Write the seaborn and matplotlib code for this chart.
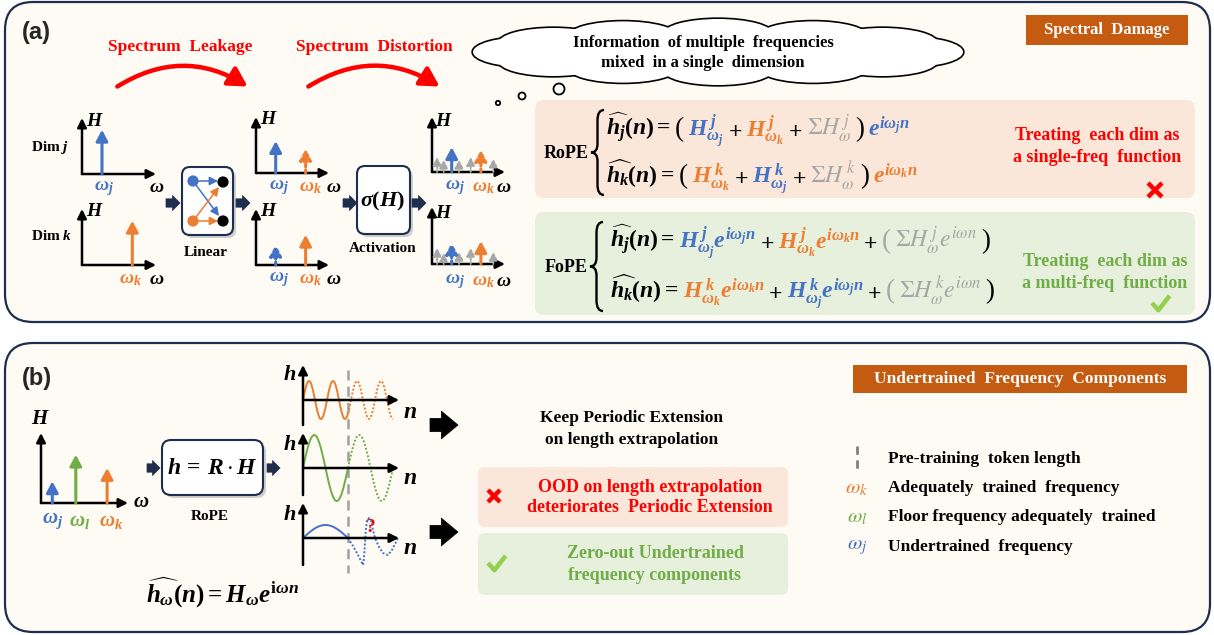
import numpy as np
import seaborn as sns
import matplotlib.pyplot as plt
from matplotlib.patches import FancyBboxPatch, Ellipse, Circle, FancyArrowPatch, PathPatch
from matplotlib.path import Path

sns.set_theme(style="white")
plt.rcParams['font.family'] = ['Liberation Serif', 'DejaVu Serif']
plt.rcParams['mathtext.fontset'] = 'custom'
plt.rcParams['mathtext.rm'] = 'Liberation Serif:bold'
plt.rcParams['mathtext.it'] = 'Liberation Serif:bold:italic'
plt.rcParams['mathtext.bf'] = 'Liberation Serif:bold'

BLUE = '#4472C4'
ORANGE = '#ED7D31'
GREEN = '#70AD47'
GRAY = '#A6A6A6'
RED = '#FF0000'
NAVY = '#1F2D4E'
CREAM = '#FDFBF3'
PEACH = '#FBE7DA'
LGREEN = '#E6F0DC'
BROWN = '#C55A11'

# ---- data: spectra (omega and H on a 0-10 scale)
w_j, w_k = 2.7, 6.8
in_j_H = 7.9                    # Dim j input (omega_j)
in_k_H = 7.9                    # Dim k input (omega_k)
lin_j_H = [5.7, 4.3]            # after Linear, dim j: omega_j, omega_k
lin_k_H = [3.6, 5.4]            # after Linear, dim k
act_gray_w = [0.7, 1.6, 3.7, 5.3, 8.4]
act_j_gray = [2.7, 2.2, 2.2, 2.7, 2.4]
act_k_gray = [2.8, 1.9, 2.1, 2.8, 2.1]
act_w = [2.7, 6.7]
act_j_H = [4.5, 4.0]
act_k_H = [3.7, 4.0]

# panel (b) spectrum
b_w = [1.3, 4.0, 7.6]
b_H = [3.1, 6.9, 5.0]

# waves: period / amplitude (pixels), pre-training length
pretrain_n = 45
n_end = 90
k_period, k_amp = 24, 19
l_period, l_amp = 45, 33
j_amp = 13
# distorted extrapolation of the undertrained frequency
j_ood_n = [45, 50, 55, 58, 60, 61, 62, 63, 64, 66, 68, 70, 72, 76, 80, 85, 89, 92, 95]
j_ood_h = [0, -8, -17, -23, -27, -20, -5, 10, 18, 20, 17, 8, 0, -9, -15, -17, -12, -6, 0]

W, H = 1214, 635
fig = plt.figure(figsize=(W / 100, H / 100), dpi=100)
ax0 = fig.add_axes([0, 0, 1, 1])
ax0.set_xlim(0, W)
ax0.set_ylim(H, 0)
ax0.axis('off')


def rbox(x0, y0, x1, y1, fc, ec='none', lw=1.0, r=8, z=1, shadow=False):
    if shadow:
        ax0.add_patch(FancyBboxPatch((x0 + 3, y0 + 3), x1 - x0, y1 - y0,
                                     boxstyle=f"round,pad=0,rounding_size={r}",
                                     fc='#B0B0B0', ec='none', alpha=0.6, zorder=z - 0.5))
    ax0.add_patch(FancyBboxPatch((x0, y0), x1 - x0, y1 - y0,
                                 boxstyle=f"round,pad=0,rounding_size={r}",
                                 fc=fc, ec=ec, lw=lw, zorder=z))


def txt(x, y, s, size, color='black', weight='bold', ha='center', va='center', **kw):
    return ax0.text(x, y, s, fontsize=size, color=color, fontweight=weight,
                    ha=ha, va=va, zorder=10, **kw)


def seq(x, y, pieces, size, gap=4):
    r = fig.canvas.get_renderer()
    for s, c, mult, fam in pieces:
        kw = {}
        if fam:
            kw['math_fontfamily'] = fam
        w8 = 'normal' if mult > 1 else 'bold'
        t = ax0.text(x, y, s, fontsize=size * mult, color=c, ha='left', va='baseline',
                     fontweight=w8, zorder=10, **kw)
        x += t.get_window_extent(renderer=r).width + gap


def brace(x, y0, y1, w=13):
    ym = (y0 + y1) / 2
    h = y1 - y0
    verts = [(x + w, y0), (x + w / 2, y0), (x + w / 2, y0 + 0.12 * h),
             (x + w / 2, ym - 0.1 * h), (x + w / 2, ym), (x, ym),
             (x + w / 2, ym), (x + w / 2, ym + 0.1 * h),
             (x + w / 2, y1 - 0.12 * h), (x + w / 2, y1), (x + w, y1)]
    codes = [Path.MOVETO, Path.CURVE3, Path.CURVE3, Path.LINETO, Path.CURVE3, Path.CURVE3,
             Path.CURVE3, Path.CURVE3, Path.LINETO, Path.CURVE3, Path.CURVE3]
    ax0.add_patch(PathPatch(Path(verts, codes), fc='none', ec='black', lw=1.7, zorder=10))


def small_arrow(x0, x1, y, color=NAVY, big=False):
    style = ("simple,head_length=0.75,head_width=1.25,tail_width=0.6" if big
             else "simple,head_length=0.45,head_width=0.9,tail_width=0.5")
    ax0.add_patch(FancyArrowPatch((x0, y), (x1, y), arrowstyle=style,
                                  mutation_scale=16 if big else 12, shrinkA=0, shrinkB=0,
                                  fc=color, ec=color, lw=0.5, zorder=10))


def cross(x, y, s=7, lw=3.2):
    ax0.plot([x - s, x + s], [y - s, y + s], color=RED, lw=lw, zorder=10, solid_capstyle='butt')
    ax0.plot([x - s, x + s], [y + s, y - s], color=RED, lw=lw, zorder=10, solid_capstyle='butt')


def check(x, y, s=8, lw=3.2):
    ax0.plot([x - s, x - s * 0.2, x + s * 1.2], [y, y + s * 0.9, y - s * 0.9],
             color='#92D050', lw=lw, zorder=10, solid_capstyle='butt')


def mini_axes(ox, oy, ex, ty, ylim=(0, 10), xlim=(0, 10)):
    a = fig.add_axes([ox / W, 1 - oy / H, (ex - ox) / W, (oy - ty) / H])
    a.set_xlim(*xlim)
    a.set_ylim(*ylim)
    a.axis('off')
    ap = dict(arrowstyle='-|>,head_length=0.6,head_width=0.3', color='black', lw=1.8,
              mutation_scale=9, shrinkA=0, shrinkB=0)
    a.annotate('', xy=(xlim[1], 0), xytext=(xlim[0], 0), xycoords='data', arrowprops=ap,
               annotation_clip=False)
    a.annotate('', xy=(xlim[0], ylim[1]), xytext=(xlim[0], ylim[0]), xycoords='data',
               arrowprops=ap, annotation_clip=False)
    return a


def spike(a, w, h, color, dotted=False, lw=2.2, ms=11):
    a.annotate('', xy=(w, h), xytext=(w, 0),
               arrowprops=dict(arrowstyle='-|>,head_length=0.6,head_width=0.32', color=color,
                               lw=lw, mutation_scale=ms, shrinkA=0, shrinkB=0,
                               linestyle=(0, (1, 1)) if dotted else '-'),
               annotation_clip=False)


# ---------------- panels
rbox(5, 2, 1210, 322, CREAM, NAVY, 1.6, r=28, z=0)
rbox(5, 343, 1210, 632, CREAM, NAVY, 1.6, r=28, z=0)
ax0.text(22, 33, '(a)', fontsize=17, fontweight='bold', family='Liberation Sans',
         ha='left', va='center', zorder=10)
ax0.text(22, 379, '(b)', fontsize=17, fontweight='bold', family='Liberation Sans',
         ha='left', va='center', zorder=10)

# ---------------- panel (a) left flow
txt(180, 47, 'Spectrum  Leakage', 12.5, RED)
txt(374, 47, 'Spectrum  Distortion', 12.5, RED)
for xa, xb in [(115, 250), (306, 442)]:
    ax0.add_patch(FancyArrowPatch((xa, 88), (xb, 88), connectionstyle='arc3,rad=-0.32',
                                  arrowstyle='-|>,head_length=0.8,head_width=0.45',
                                  mutation_scale=14, color=RED, lw=3.2, zorder=10))

txt(50, 148, r'Dim $j$', 11)
txt(52, 236, r'Dim $k$', 11)

a = mini_axes(82, 174, 156, 118)
spike(a, w_j, in_j_H, BLUE)
a = mini_axes(82, 265, 156, 209)
spike(a, w_k, in_k_H, ORANGE)

a3 = mini_axes(256, 173, 329, 117)
spike(a3, w_j, lin_j_H[0], BLUE)
spike(a3, w_k, lin_j_H[1], ORANGE, dotted=True)
a4 = mini_axes(256, 265, 329, 209)
spike(a4, w_j, lin_k_H[0], BLUE, dotted=True)
spike(a4, w_k, lin_k_H[1], ORANGE)

a5 = mini_axes(432, 172, 505, 117)
for gw, gh in zip(act_gray_w, act_j_gray):
    spike(a5, gw, gh, GRAY, dotted=True, lw=1.4, ms=8)
spike(a5, act_w[0], act_j_H[0], BLUE)
spike(a5, act_w[1], act_j_H[1], ORANGE, dotted=True)
a6 = mini_axes(432, 264, 505, 207)
for gw, gh in zip(act_gray_w, act_k_gray):
    spike(a6, gw, gh, GRAY, dotted=True, lw=1.4, ms=8)
spike(a6, act_w[0], act_k_H[0], BLUE, dotted=True)
spike(a6, act_w[1], act_k_H[1], ORANGE)

# axis labels of the small spectra
for hx, hy in [(95, 121), (95, 211), (269, 120), (269, 212), (444, 121), (444, 213)]:
    txt(hx, hy, r'$H$', 14)
for (jx, kx, wx, y) in [(None, None, 157, 188), (None, None, 157, 280),
                        (279, 310, 334, 188), (279, 310, 334, 280),
                        (455, 483, 504, 188), (455, 483, 504, 282)]:
    if jx:
        txt(jx, y, r'$\omega_j$', 14, BLUE)
        txt(kx, y, r'$\omega_k$', 14, ORANGE)
    txt(wx, y - 1, r'$\omega$', 14)
txt(104, 189, r'$\omega_j$', 14, BLUE)
txt(130, 280, r'$\omega_k$', 14, ORANGE)

# Linear box
rbox(182, 167, 233, 235, 'white', NAVY, 1.5, r=8, z=5, shadow=True)
ax0.scatter([193, 193, 223, 223], [181, 221, 182, 221], s=50,
            c=[BLUE, ORANGE, 'black', 'black'], zorder=11)
lin_ap = dict(arrowstyle='-|>,head_length=0.5,head_width=0.25', mutation_scale=10, lw=1.1)
for (p0, p1, c) in [((197, 181), (218, 181), BLUE), ((196, 185), (219, 216), BLUE),
                    ((197, 221), (218, 221), ORANGE), ((196, 217), (219, 187), ORANGE)]:
    ax0.add_patch(FancyArrowPatch(p0, p1, color=c, zorder=11, shrinkA=0, shrinkB=0, **lin_ap))
txt(206, 252, 'Linear', 11)

# Activation box
rbox(357, 166, 410, 234, 'white', NAVY, 1.5, r=8, z=5, shadow=True)
txt(383, 201, r'$\sigma(H)$', 16)
txt(383, 249, 'Activation', 11)

for xa, xb in [(166, 180), (236, 250), (343, 357), (412, 426)]:
    small_arrow(xa, xb, 203)

# ---------------- cloud
cx, cy = 718, 52
ang = np.linspace(0, 2 * np.pi, 13)[:-1]
bumps = [(cx + 190 * np.cos(t), cy + 18 * np.sin(t)) for t in ang]
for bx, by in bumps:
    ax0.add_patch(Ellipse((bx, by), 110, 30, fc='white', ec='black', lw=2.4, zorder=3))
for bx, by in bumps:
    ax0.add_patch(Ellipse((bx, by), 110, 30, fc='white', ec='none', zorder=4))
ax0.add_patch(Ellipse((cx, cy), 400, 46, fc='white', ec='none', zorder=4))
for (x, y, r) in [(498, 103, 2.2), (522, 96, 3.5), (559, 89, 5.5)]:
    ax0.add_patch(Circle((x, y), r, fc='white', ec='black', lw=1.3, zorder=4))
txt(703, 43, 'Information  of multiple  frequencies', 12)
txt(703, 63, 'mixed  in a single  dimension', 12)

# Spectral damage label
ax0.add_patch(plt.Rectangle((1026, 15), 162, 30, fc=BROWN, ec='none', zorder=5))
txt(1107, 30, 'Spectral  Damage', 12, 'white')

# ---------------- RoPE / FoPE equations
rbox(535, 100, 1195, 198, PEACH, r=9, z=1)
rbox(535, 212, 1195, 315, LGREEN, r=9, z=1)
txt(566, 153, 'RoPE', 13)
txt(566, 267, 'FoPE', 13)
brace(591, 110, 195)
brace(590, 222, 311)

S = 17
P = 1.15
rope1 = [(r'$\widehat{h_j}(n)=$', 'black', 1, None), ('(', 'black', P, None),
         (r'$H^{\,j}_{\omega_j}$', BLUE, 1, None), (r'$+$', 'black', 1, None),
         (r'$H^{\,j}_{\omega_k}$', ORANGE, 1, None), (r'$+$', 'black', 1, None),
         (r'$\Sigma H^{\,j}_{\omega}$', GRAY, 1, 'stix'), (')', 'black', P, None),
         (r'$e^{i\omega_j n}$', BLUE, 1, None)]
rope2 = [(r'$\widehat{h_k}(n)=$', 'black', 1, None), ('(', 'black', P, None),
         (r'$H^{\,k}_{\omega_k}$', ORANGE, 1, None), (r'$+$', 'black', 1, None),
         (r'$H^{\,k}_{\omega_j}$', BLUE, 1, None), (r'$+$', 'black', 1, None),
         (r'$\Sigma H^{\,k}_{\omega}$', GRAY, 1, 'stix'), (')', 'black', P, None),
         (r'$e^{i\omega_k n}$', ORANGE, 1, None)]
fope1 = [(r'$\widehat{h_j}(n)=$', 'black', 1, None),
         (r'$H^{\,j}_{\omega_j}e^{i\omega_j n}$', BLUE, 1, None), (r'$+$', 'black', 1, None),
         (r'$H^{\,j}_{\omega_k}e^{i\omega_k n}$', ORANGE, 1, None), (r'$+$', 'black', 1, None),
         ('(', GRAY, P, None), (r'$\Sigma H^{\,j}_{\omega}e^{i\omega n}$', GRAY, 1, 'stix'),
         (')', 'black', P, None)]
fope2 = [(r'$\widehat{h_k}(n)=$', 'black', 1, None),
         (r'$H^{\,k}_{\omega_k}e^{i\omega_k n}$', ORANGE, 1, None), (r'$+$', 'black', 1, None),
         (r'$H^{\,k}_{\omega_j}e^{i\omega_j n}$', BLUE, 1, None), (r'$+$', 'black', 1, None),
         ('(', GRAY, P, None), (r'$\Sigma H^{\,k}_{\omega}e^{i\omega n}$', GRAY, 1, 'stix'),
         (')', 'black', P, None)]
seq(606, 136, rope1, S)
seq(606, 183, rope2, S)
seq(610, 248, fope1, S)
seq(610, 298, fope2, S)

txt(1097, 136, 'Treating  each dim as', 13, RED)
txt(1097, 158, 'a single-freq  function', 13, RED)
cross(1155, 190)
txt(1105, 262, 'Treating  each dim as', 13, GREEN)
txt(1105, 284, 'a multi-freq  function', 13, GREEN)
check(1160, 303)

# ---------------- panel (b)
b = mini_axes(41, 503, 128, 433)
for bw, bh, c in zip(b_w, b_H, [BLUE, GREEN, ORANGE]):
    spike(b, bw, bh, c)
txt(40, 419, r'$H$', 15)
txt(141, 502, r'$\omega$', 15)
txt(53, 521, r'$\omega_j$', 15, BLUE)
txt(80, 521, r'$\omega_l$', 15, GREEN)
txt(111, 521, r'$\omega_k$', 15, ORANGE)

rbox(162, 440, 263, 495, 'white', NAVY, 1.5, r=9, z=5, shadow=True)
txt(212, 469, r'$h\,=\,R\cdot H$', 17)
txt(210, 516, 'RoPE', 11)
small_arrow(147, 160, 468)
small_arrow(267, 280, 468)

n_in = np.linspace(0, pretrain_n, 120)
n_out = np.linspace(pretrain_n, n_end, 120)
dot = (0, (1, 1))
w1 = mini_axes(303, 425, 399, 365, ylim=(-25, 35), xlim=(0, 96))
sns.lineplot(x=n_in, y=k_amp * np.sin(2 * np.pi * n_in / k_period), ax=w1,
             color=ORANGE, lw=1.4)
sns.lineplot(x=n_out, y=k_amp * np.sin(2 * np.pi * n_out / k_period), ax=w1,
             color=ORANGE, lw=1.4, linestyle=dot)
w2 = mini_axes(303, 495, 399, 433, ylim=(-27, 35), xlim=(0, 96))
sns.lineplot(x=n_in, y=l_amp * np.sin(2 * np.pi * n_in / l_period), ax=w2,
             color=GREEN, lw=1.4)
sns.lineplot(x=n_out, y=l_amp * np.sin(2 * np.pi * n_out / l_period), ax=w2,
             color=GREEN, lw=1.4, linestyle=dot)
w3 = mini_axes(303, 565, 399, 503, ylim=(-27, 35), xlim=(0, 96))
sns.lineplot(x=n_in, y=j_amp * np.sin(np.pi * n_in / pretrain_n), ax=w3,
             color=BLUE, lw=1.4)
sns.lineplot(x=j_ood_n, y=j_ood_h, ax=w3, color=BLUE, lw=1.4, linestyle=dot)
for w in (w1, w2, w3):
    for line in w.get_lines():
        line.set_clip_on(False)
for y in (375, 445, 515):
    txt(290, y, r'$h$', 16)
for y in (413, 478, 548):
    txt(410, y, r'$n$', 17)
txt(371, 528, '?', 14, RED)
ax0.plot([303 + pretrain_n] * 2, [370, 573], color='#A0A0A0', lw=1.8,
         linestyle=(0, (4, 2.5)), zorder=12)

txt(222, 592, r'$\widehat{h_\omega}(n)=H_\omega e^{\mathrm{i}\omega n}$', 18)

small_arrow(430, 458, 425, 'black', big=True)
small_arrow(430, 458, 532, 'black', big=True)

txt(632, 418, 'Keep Periodic Extension', 12.5)
txt(632, 440, 'on length extrapolation', 12.5)
rbox(478, 467, 788, 527, PEACH, r=7, z=1)
rbox(478, 533, 788, 595, LGREEN, r=7, z=1)
cross(494, 496, s=6)
txt(650, 487, 'OOD on length extrapolation', 13, RED)
txt(650, 508, 'deteriorates  Periodic Extension', 13, RED)
check(496, 563)
txt(655, 554, 'Zero-out Undertrained', 13, GREEN)
txt(655, 575, 'frequency components', 13, GREEN)

ax0.add_patch(plt.Rectangle((853, 365), 334, 28, fc=BROWN, ec='none', zorder=5))
txt(1020, 379, 'Undertrained  Frequency  Components', 12.5, 'white')

ax0.plot([857, 857], [446, 473], color='#808080', lw=2, linestyle=(0, (3, 2)), zorder=10)
txt(888, 459, 'Pre-training  token length', 12.5, ha='left')
txt(857, 488, r'$\omega_k$', 15, ORANGE, math_fontfamily='stix')
txt(888, 488, 'Adequately  trained  frequency', 12.5, ha='left')
txt(857, 517, r'$\omega_l$', 15, GREEN, math_fontfamily='stix')
txt(888, 517, 'Floor frequency adequately  trained', 12.5, ha='left')
txt(857, 547, r'$\omega_j$', 15, BLUE, math_fontfamily='stix')
txt(888, 547, 'Undertrained  frequency', 12.5, ha='left')

fig.savefig('out.png', dpi=100)
